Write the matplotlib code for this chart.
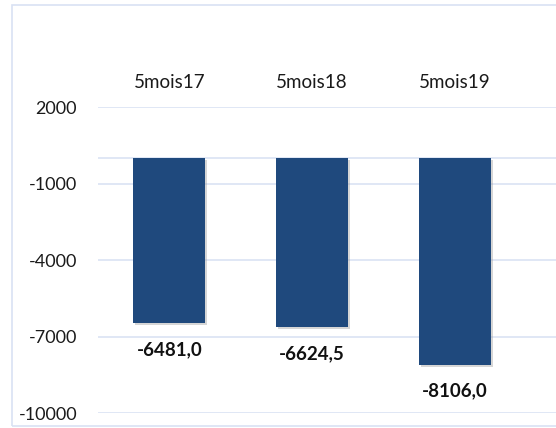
import matplotlib.pyplot as plt
from matplotlib.patches import Rectangle
import matplotlib.transforms as mtransforms
import matplotlib.patheffects as pe

categories = ['5mois17', '5mois18', '5mois19']
values = [-6481.0, -6624.5, -8106.0]
value_labels = ['-6481,0', '-6624,5', '-8106,0']
yticks = [2000, -1000, -4000, -7000, -10000]

W, H = 556, 428
fig = plt.figure(figsize=(W / 100, H / 100), dpi=100)
plt.rcParams['font.family'] = ['Lato', 'DejaVu Sans']

# outer chart border (right side is cropped in the reference)
fig.patches.append(Rectangle((12 / W, 1 - 426 / H), 600 / W, 421 / H,
                             transform=fig.transFigure, fill=False,
                             edgecolor='#d9e2f3', linewidth=1.2))

left, right, top, bottom = 98, 556, 107, 413
ax = fig.add_axes([left / W, 1 - bottom / H, (right - left) / W, (bottom - top) / H])

cat_w = 142.7
ax.set_xlim(-0.5, -0.5 + (right - left) / cat_w)
ax.set_ylim(-10000, 2000)

x = list(range(len(categories)))
bars = ax.bar(x, values, width=0.505, color='#1f497d', zorder=3)
for b in bars:
    b.set_path_effects([pe.SimplePatchShadow(offset=(1.5, -1.5), shadow_rgbFace='#999999', alpha=0.4),
                        pe.Normal()])

ax.set_yticks(yticks)
ax.set_yticklabels([str(t) for t in yticks], fontsize=13, color='#1a1a1a')
ax.tick_params(axis='y', length=0, pad=15)
ax.set_xticks([])
ax.grid(axis='y', color='#dae3f3', linewidth=1.2, zorder=0)
ax.axhline(0, color='#dae3f3', linewidth=1.2, zorder=1)
for s in ax.spines.values():
    s.set_visible(False)

# category labels on top
trans = mtransforms.blended_transform_factory(ax.transData, ax.transAxes)
for xi, c in zip(x, categories):
    ax.text(xi, 1 + 24 / (bottom - top), c, transform=trans, ha='center', va='center',
            fontsize=13.5, color='#1a1a1a')

for xi, v, lab in zip(x, values, value_labels):
    ax.annotate(lab, (xi, v), xytext=(0, -19), textcoords='offset points',
                ha='center', va='center', fontsize=13.5, fontweight='bold', color='#111111')

fig.savefig('out.png', dpi=100)
